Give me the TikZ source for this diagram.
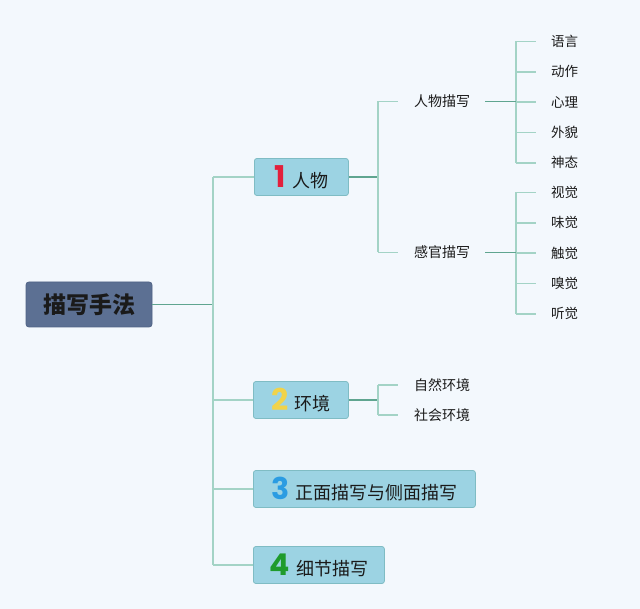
\documentclass[tikz,border=0pt]{standalone}
\usepackage{fontspec}
\setmainfont{Noto Sans CJK SC}
\newfontfamily\numfont{Poppins}
\definecolor{bgc}{HTML}{F3F8FD}
\definecolor{rootc}{HTML}{5C7093}
\definecolor{rootd}{HTML}{4F6385}
\definecolor{boxc}{HTML}{9CD3E3}
\definecolor{boxd}{HTML}{7FBCC4}
\definecolor{darkl}{HTML}{5FA590}
\definecolor{lightl}{HTML}{A3D3C6}
\definecolor{nred}{HTML}{E2203C}
\definecolor{nyel}{HTML}{F1D34A}
\definecolor{nblu}{HTML}{2B9CE2}
\definecolor{ngrn}{HTML}{1F9B2C}
\definecolor{txt}{HTML}{1A1A1A}
\tikzset{
  rootbox/.style={draw=rootd, fill=rootc, rounded corners=3pt, line width=0.8pt, minimum width=126pt, minimum height=45pt, inner sep=0pt, font=\fontsize{23}{23}\selectfont\bfseries, text=txt},
  mainbox/.style={draw=boxd, fill=boxc, rounded corners=2.5pt, line width=0.8pt, minimum height=37pt, inner sep=0pt, anchor=west, font=\fontsize{18}{18}\selectfont, text=txt},
  midtext/.style={font=\fontsize{14}{14}\selectfont, text=txt, inner sep=0pt},
  leaftext/.style={font=\fontsize{13.5}{13.5}\selectfont, text=txt, inner sep=0pt},
  darkline/.style={draw=darkl, line width=1.8pt},
  lightline/.style={draw=lightl, line width=1.7pt},
}
\newcommand{\num}[2]{{\numfont\bfseries\fontsize{30}{30}\selectfont\color{#1}#2}}
\begin{document}
\begin{tikzpicture}[x=1pt,y=-1pt]
\fill[bgc] (0,0) rectangle (640,609);
\useasboundingbox (0,0) rectangle (640,609);
% root
\node[rootbox] (root) at (89,304.5) {描写手法};
% main boxes
\node[mainbox, minimum width=94pt] (n1) at (254,177) {\num{nred}{1}\hspace{6pt}人物\hspace{4pt}};
\node[mainbox, minimum width=95pt] (n2) at (253,400) {\num{nyel}{2}\hspace{6pt}环境\hspace{4pt}};
\node[mainbox, minimum width=222pt] (n3) at (253,489) {\num{nblu}{3}\hspace{6pt}正面描写与侧面描写};
\node[mainbox, minimum width=131pt] (n4) at (253,565) {\num{ngrn}{4}\hspace{6pt}细节描写};
% trunk
\coordinate (tr) at (213,304.5);
\coordinate (t1) at (213,177);
\coordinate (t4) at (213,565);
\draw[darkline] (root.east) -- (tr);
\draw[lightline] (t1) -- (t4);
\draw[lightline] (t1) -- (n1.west);
\draw[lightline] (213,400) -- (n2.west);
\draw[lightline] (213,489) -- (n3.west);
\draw[lightline] (t4) -- (n4.west);
% sub of n1
\node[midtext] (p) at (442,101.5) {人物描写};
\node[midtext] (s) at (442,252.5) {感官描写};
\coordinate (b1) at (378,177);
\draw[darkline] (n1.east) -- (b1);
\draw[lightline] (378,101.5) -- (378,252.5);
\draw[lightline] (378,101.5) -- (398,101.5);
\draw[lightline] (378,252.5) -- (398,252.5);
% leaves of p
\foreach \t [count=\i] in {语言,动作,心理,外貌,神态} {
  \node[leaftext, anchor=west] (pl\i) at (551,{41.5+30.3*(\i-1)}) {\t};
  \draw[lightline] (516,{41.5+30.3*(\i-1)}) -- (536,{41.5+30.3*(\i-1)});
}
\draw[lightline] (516,41.5) -- (516,162.7);
\draw[darkline] (485,101.5) -- (516,101.5);
% leaves of s
\foreach \t [count=\i] in {视觉,味觉,触觉,嗅觉,听觉} {
  \node[leaftext, anchor=west] (sl\i) at (551,{192.5+30.3*(\i-1)}) {\t};
  \draw[lightline] (516,{192.5+30.3*(\i-1)}) -- (536,{192.5+30.3*(\i-1)});
}
\draw[lightline] (516,192.5) -- (516,313.7);
\draw[darkline] (485,252.5) -- (516,252.5);
% sub of n2
\node[midtext] (e1) at (442,385) {自然环境};
\node[midtext] (e2) at (442,415) {社会环境};
\draw[darkline] (n2.east) -- (378,400);
\draw[lightline] (378,385) -- (378,415);
\draw[lightline] (378,385) -- (398,385);
\draw[lightline] (378,415) -- (398,415);
\end{tikzpicture}
\end{document}
